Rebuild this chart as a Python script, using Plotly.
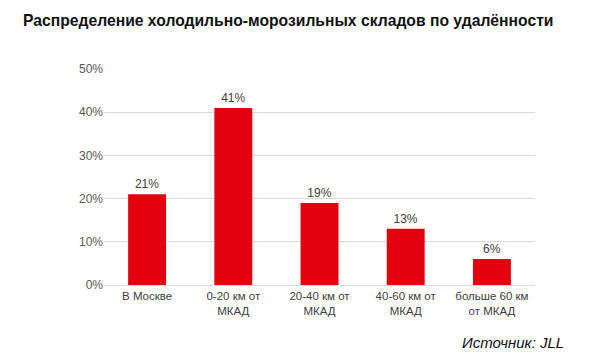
import plotly.graph_objects as go

categories = ["В Москве", "0-20 км от<br>МКАД", "20-40 км от<br>МКАД", "40-60 км от<br>МКАД", "больше 60 км<br>от МКАД"]
values = [21, 41, 19, 13, 6]
labels = ["21%", "41%", "19%", "13%", "6%"]
tick_vals = [0, 10, 20, 30, 40, 50]
tick_text = ["0%", "10%", "20%", "30%", "40%", "50%"]

fig = go.Figure(go.Bar(
    x=categories, y=values, text=labels, textposition="outside",
    textfont=dict(size=12, color="#404040", family="Liberation Sans"),
    marker=dict(color="#E2000F", line=dict(width=0)),
    width=0.44, cliponaxis=False,
))

# page body has an 8px margin; figure sized so plot lands where the reference has it
fig.update_layout(
    width=592, height=356,
    margin=dict(l=96, r=65, t=61, b=79),
    paper_bgcolor="white", plot_bgcolor="white",
    font=dict(family="Liberation Sans", size=12, color="#404040"),
    showlegend=False,
    bargap=0.56,
)
fig.update_yaxes(range=[0, 50], tickvals=tick_vals, ticktext=tick_text,
                 gridcolor="#D9D9D9", gridwidth=1, zeroline=False,
                 ticks="", ticklen=0, tickfont=dict(size=12, color="#595959"),
                 showline=False)
fig.update_xaxes(showline=True, linecolor="#D9D9D9", linewidth=1,
                 tickfont=dict(size=11.5, color="#404040"), ticks="")

fig.add_annotation(text="<b>Распределение холодильно-морозильных складов по удалённости</b>",
                   xref="paper", yref="paper", x=(21-104)/431, y=1 + (69-20)/216,
                   xanchor="left", yanchor="middle", showarrow=False,
                   font=dict(size=15.7, color="#111111", family="Liberation Sans"))
fig.add_annotation(text="<i>Источник: JLL</i>",
                   xref="paper", yref="paper", x=(566-104)/431, y=-(342-285)/216,
                   xanchor="right", yanchor="middle", showarrow=False,
                   font=dict(size=15, color="#111111", family="Liberation Sans"))

fig.write_html("out.html")
